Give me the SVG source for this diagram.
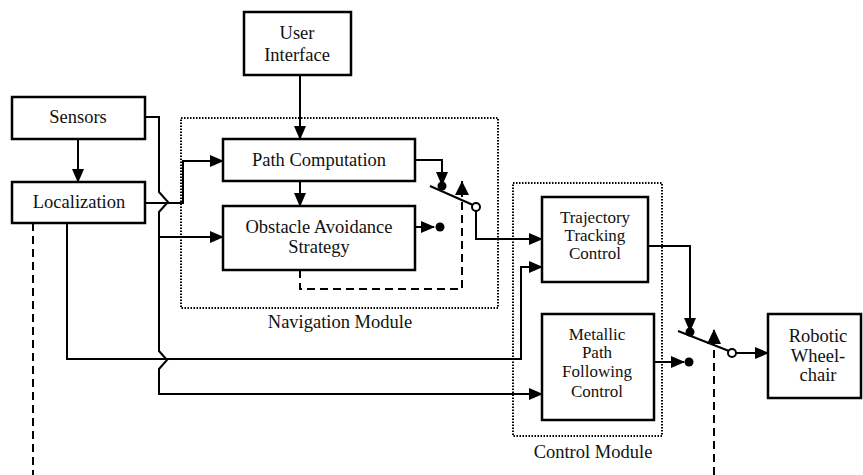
<svg xmlns="http://www.w3.org/2000/svg" width="863" height="475" viewBox="0 0 863 475">
<defs>
<style>
.box{fill:#fff;stroke:#000;stroke-width:2.5}
.mod{fill:none;stroke:#000;stroke-width:2;stroke-dasharray:1.5 1.5}
.w{fill:none;stroke:#000;stroke-width:2}
.d{fill:none;stroke:#000;stroke-width:2;stroke-dasharray:8 5}
.t{font-family:'Liberation Serif','Tinos','Times New Roman','DejaVu Serif',serif;font-size:18.5px;fill:#111;text-anchor:middle}
.s{font-size:17px}
.dot{fill:#000}
.oc{fill:#fff;stroke:#000;stroke-width:2}
</style>
<marker id="ah" markerWidth="14" markerHeight="12" refX="13" refY="6" orient="auto" markerUnits="userSpaceOnUse">
<path d="M0,0 L14,6 L0,12 Z" fill="#000"/>
</marker>
</defs>

<g id="navigation-module">
<rect class="mod" x="181" y="118" width="317" height="190"/>
<text class="t" x="340" y="328" font-family="Liberation Serif, DejaVu Serif, serif">Navigation Module</text>
</g>
<g id="control-module">
<rect class="mod" x="513" y="183" width="149" height="253"/>
<text class="t" x="593" y="458" font-family="Liberation Serif, DejaVu Serif, serif">Control Module</text>
</g>

<g id="connectors">
<path class="w" d="M300,75 L300,139" marker-end="url(#ah)"/>
<path class="w" d="M300,181 L300,206" marker-end="url(#ah)"/>
<path class="w" d="M78,139 L78,182" marker-end="url(#ah)"/>
<path class="w" d="M145,117 L159,117 L159,192 L168,202 L159,212 L159,351 L167,360 L159,369 L159,394 L542,394" marker-end="url(#ah)"/>
<path class="w" d="M159,237 L223,237" marker-end="url(#ah)"/>
<path class="w" d="M145,203 L183,203 L183,161 L223,161" marker-end="url(#ah)"/>
<path class="w" d="M67,223 L67,359 L521,359 L521,267 L542,267" marker-end="url(#ah)"/>
<path class="d" d="M33,223 L33,475"/>
<path class="w" d="M415,160 L442,160 L442,185" marker-end="url(#ah)"/>
<circle class="dot" cx="442" cy="186" r="4.5"/>
<path class="w" d="M430,186 L473,205"/>
<circle class="oc" cx="476" cy="207" r="4"/>
<path class="w" d="M415,227 L434,227" marker-end="url(#ah)"/>
<circle class="dot" cx="440" cy="227" r="4.5"/>
<path class="d" d="M300,270 L300,289 L462,289 L462,181"/>
<path d="M455,195 L462,181 L469,195 Z" fill="#000"/>
<path class="w" d="M476,211 L476,239 L542,239" marker-end="url(#ah)"/>
<path class="w" d="M648,246 L690,246 L690,331" marker-end="url(#ah)"/>
<circle class="dot" cx="690" cy="332" r="4.5"/>
<path class="w" d="M678,331 L729,351"/>
<circle class="oc" cx="732" cy="353" r="4"/>
<path class="w" d="M654,362 L684,362" marker-end="url(#ah)"/>
<circle class="dot" cx="689" cy="362" r="4.5"/>
<path class="d" d="M714,475 L714,330"/>
<path d="M707,344 L714,329 L721,344 Z" fill="#000"/>
<path class="w" d="M736,353 L768,353" marker-end="url(#ah)"/>
</g>

<g id="user-interface">
<rect class="box" x="244" y="12" width="107" height="63"/>
<text class="t" x="297" y="39">User</text>
<text class="t" x="297" y="61">Interface</text>
</g>
<g id="sensors">
<rect class="box" x="12" y="97" width="133" height="42"/>
<text class="t" x="78" y="123">Sensors</text>
</g>
<g id="localization">
<rect class="box" x="12" y="182" width="133" height="41"/>
<text class="t" x="79" y="208">Localization</text>
</g>
<g id="path-computation">
<rect class="box" x="223" y="139" width="192" height="42"/>
<text class="t" x="319" y="166">Path Computation</text>
</g>
<g id="obstacle-avoidance">
<rect class="box" x="223" y="206" width="192" height="64"/>
<text class="t" x="319" y="233">Obstacle Avoidance</text>
<text class="t" x="319" y="253">Strategy</text>
</g>
<g id="trajectory-tracking">
<rect class="box" x="542" y="197" width="106" height="85"/>
<text class="t s" x="595" y="223">Trajectory</text>
<text class="t s" x="595" y="241">Tracking</text>
<text class="t s" x="595" y="259">Control</text>
</g>
<g id="metallic-path">
<rect class="box" x="542" y="314" width="112" height="106"/>
<text class="t s" x="597" y="340">Metallic</text>
<text class="t s" x="597" y="358">Path</text>
<text class="t s" x="597" y="377">Following</text>
<text class="t s" x="597" y="397">Control</text>
</g>
<g id="robotic-wheelchair">
<rect class="box" x="768" y="314" width="93" height="84"/>
<text class="t" x="818" y="342">Robotic</text>
<text class="t" x="818" y="362">Wheel-</text>
<text class="t" x="818" y="381">chair</text>
</g>
</svg>
